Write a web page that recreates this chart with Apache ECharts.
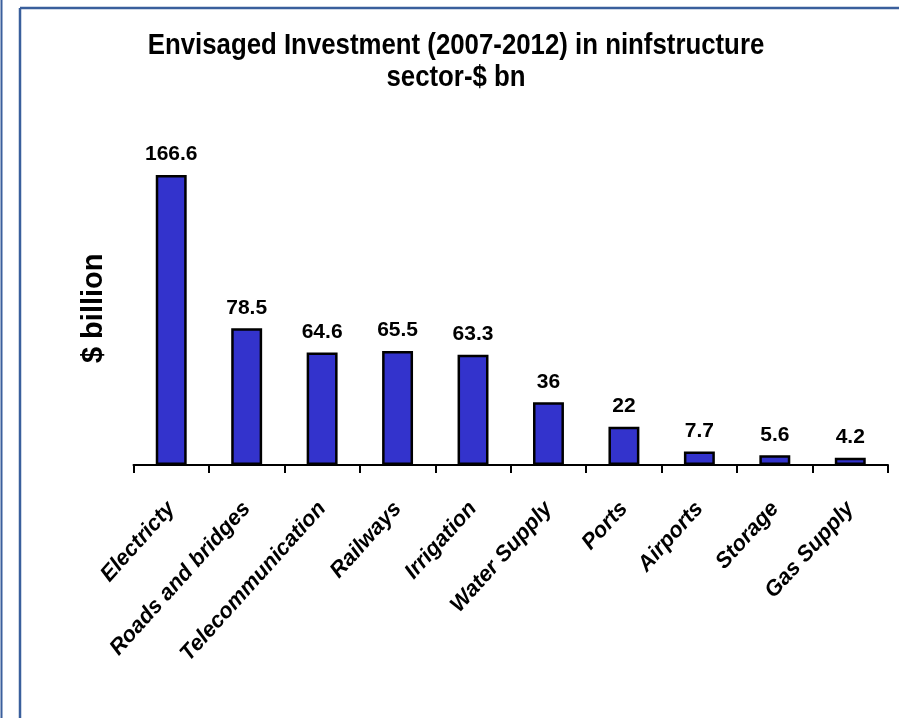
<!DOCTYPE html>
<html>
<head>
<meta charset="utf-8">
<script src="https://cdn.jsdelivr.net/npm/echarts@6/dist/echarts.min.js"></script>
<style>
html,body{margin:0;padding:0;background:#fff;}
#c{width:899px;height:718px;}
</style>
</head>
<body>
<div id="c"></div>
<script>
const categories = ['Electricty','Roads and bridges','Telecommunication','Railways','Irrigation','Water Supply','Ports','Airports','Storage','Gas Supply'];
const values = [166.6, 78.5, 64.6, 65.5, 63.3, 36, 22, 7.7, 5.6, 4.2];
const titleText = 'Envisaged Investment (2007-2012) in ninfstructure\nsector-$ bn';
const yName = '$ billion';

const sans = "'Liberation Sans',Arial,sans-serif";
const chart = echarts.init(document.getElementById('c'), null, {renderer:'canvas'});
chart.setOption({
  animation:false,
  backgroundColor:'#ffffff',
  graphic:[
    {type:'line', shape:{x1:20,y1:8,x2:20,y2:718}, style:{stroke:'#3a5f9c', lineWidth:2.5}},
    {type:'line', shape:{x1:20,y1:8,x2:899,y2:8}, style:{stroke:'#3a5f9c', lineWidth:2.5}},
    {type:'line', shape:{x1:1.5,y1:0,x2:1.5,y2:718}, style:{stroke:'#3a5f9c', lineWidth:2}},
    {type:'text', x:456, y:30, scaleX:0.86, scaleY:1,
      style:{text:titleText, fill:'#000', font:"bold 30px 'Liberation Sans', Arial, sans-serif",
        align:'center', verticalAlign:'top', lineHeight:32}}
  ],
  grid:{left:133.5, right:11, top:151.6, bottom:253, containLabel:false},
  xAxis:{
    type:'category', data:categories,
    axisLine:{lineStyle:{color:'#000', width:2}},
    axisTick:{show:true, length:8, lineStyle:{color:'#000', width:2}},
    axisLabel:{rotate:48, margin:40, interval:0, color:'#000', fontFamily:sans, fontWeight:'bold', fontStyle:'italic', fontSize:22}
  },
  yAxis:{
    type:'value', min:0, max:180,
    name:yName, nameLocation:'middle', nameGap:25, nameRotate:90,
    nameTextStyle:{fontFamily:sans, fontWeight:'bold', fontSize:29, color:'#000'},
    axisLine:{show:false}, axisTick:{show:false}, axisLabel:{show:false}, splitLine:{show:false}
  },
  series:[{
    type:'bar', data:values, barWidth:'41%',
    itemStyle:{color:'#3333cc', borderColor:'#000', borderWidth:2.5},
    label:{show:true, position:'top', distance:10, color:'#000', fontFamily:sans, fontWeight:'bold', fontSize:21}
  }]
});
</script>
</body>
</html>
